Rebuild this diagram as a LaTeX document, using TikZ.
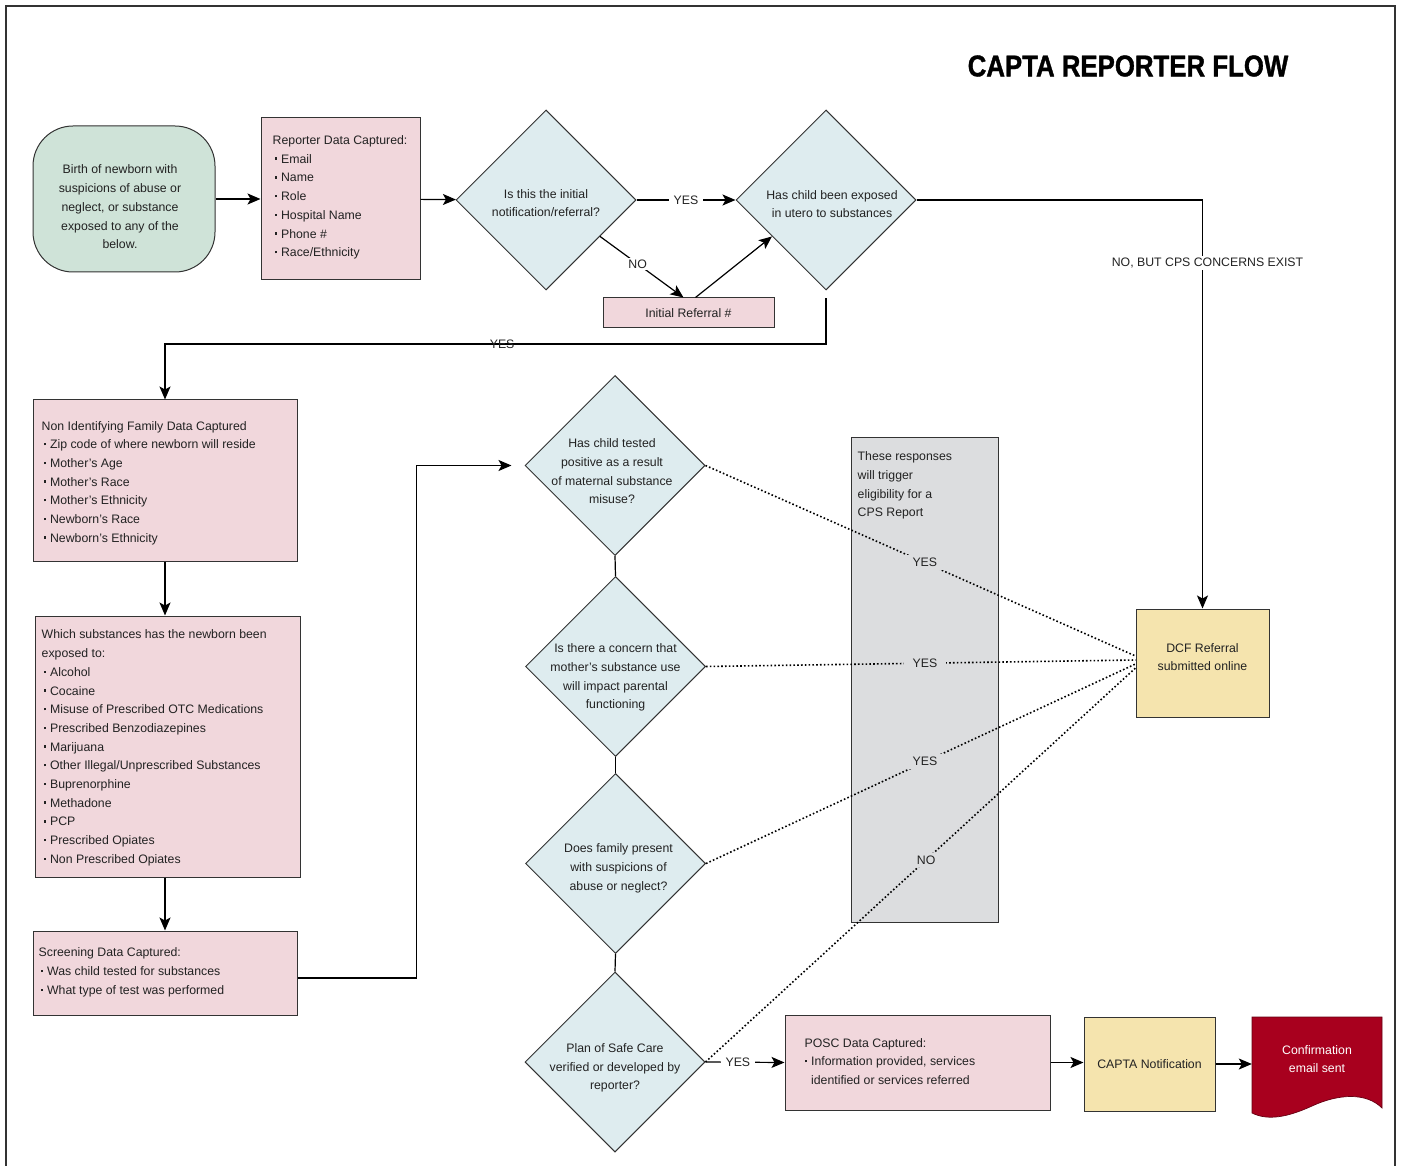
\documentclass[tikz,border=0pt]{standalone}
\usepackage{fontspec}
\setmainfont{Liberation Sans}
\newfontfamily\titlefont[FakeStretch=0.86, BoldFeatures={FakeBold=1.2}]{Liberation Sans}
\usetikzlibrary{shapes.geometric,arrows.meta,calc}
\definecolor{greenc}{HTML}{CFE3D8}
\definecolor{pinkc}{HTML}{F1D7DC}
\definecolor{bluec}{HTML}{DEECEF}
\definecolor{greyc}{HTML}{DCDDDF}
\definecolor{yellowc}{HTML}{F5E4AE}
\definecolor{redc}{HTML}{A8001E}
\definecolor{txtc}{HTML}{222222}
\definecolor{edgec}{HTML}{333333}
\newcommand{\bux}{\raisebox{0.28em}{\rule{2.4pt}{2.4pt}}\hspace{4pt}}
\newcommand{\bu}{\hspace{2pt}\bux}
\begin{document}
\begin{tikzpicture}[x=1pt,y=-1pt,
  every node/.style={font=\fontsize{12.3pt}{18.7pt}\selectfont, text=txtc},
  box/.style={draw=edgec, line width=1pt, inner sep=0pt},
  txt/.style={anchor=west, align=left, inner sep=0pt},
  dia/.style={diamond, draw=edgec, line width=1pt, fill=bluec, minimum width=180pt, minimum height=180pt, inner sep=0pt, aspect=1},
  arr/.style={draw=black, line width=1.2pt, -{Stealth[length=13pt,width=11pt,inset=3pt]}},
  ln/.style={draw=black, line width=1.2pt},
  dot/.style={draw=black, line width=1.6pt, dash pattern=on 1.6pt off 2.2pt},
  lbl/.style={fill=white, inner xsep=5pt, inner ysep=2pt},
  glbl/.style={fill=greyc, inner xsep=9pt, inner ysep=3pt}]
\useasboundingbox (0,0) rectangle (1401,1166);
% frame
\draw[line width=1.3pt, edgec] (6,1166) -- (6,6) -- (1395,6) -- (1395,1166);
% title
\node[font=\titlefont\bfseries\fontsize{30pt}{30pt}\selectfont, text=black] (title) at (1128,66) {CAPTA REPORTER FLOW};
% top row
\node[box, rounded corners=40pt, fill=greenc, minimum width=182pt, minimum height=146pt,
  label={[align=center, xshift=-4pt, yshift=-8pt]center:Birth of newborn with\\suspicions of abuse or\\neglect, or substance\\exposed to any of the\\below.}] (start) at (124,199) {};
\node[box, fill=pinkc, minimum width=159pt, minimum height=162pt] (rep) at (340.5,199) {};
\node[txt] (rept) at ([xshift=12pt, yshift=1.5pt]rep.west)
  {Reporter Data Captured:\\\bu Email\\\bu Name\\\bu Role\\\bu Hospital Name\\\bu Phone \#\\\bu Race/Ethnicity};
\node[dia, label={[align=center, yshift=-3pt]center:Is this the initial\\notification/referral?}] (d1) at (546,200) {};
\node[dia, label={[align=center, xshift=6pt, yshift=-4pt]center:Has child been exposed\\in utero to substances}] (d2) at (826,200) {};
\node[box, fill=pinkc, minimum width=171pt, minimum height=30pt] (ir) at (688.5,313) {Initial Referral \#};
% left column
\node[box, fill=pinkc, minimum width=264pt, minimum height=161pt] (nonid) at (165,480.5) {};
\node[txt] (nonidt) at ([xshift=9pt, yshift=-2.5pt]nonid.west)
  {Non Identifying Family Data Captured\\\bu Zip code of where newborn will reside\\\bu Mother’s Age\\\bu Mother’s Race\\\bu Mother’s Ethnicity\\\bu Newborn’s Race\\\bu Newborn’s Ethnicity};
\node[box, fill=pinkc, minimum width=265pt, minimum height=261pt] (subs) at (167.5,746.5) {};
\node[txt] (subst) at ([xshift=7pt, yshift=-1.5pt]subs.west)
  {Which substances has the newborn been\\exposed to:\\\bu Alcohol\\\bu Cocaine\\\bu Misuse of Prescribed OTC Medications\\\bu Prescribed Benzodiazepines\\\bu Marijuana\\\bu Other Illegal/Unprescribed Substances\\\bu Buprenorphine\\\bu Methadone\\\bu PCP\\\bu Prescribed Opiates\\\bu Non Prescribed Opiates};
\node[box, fill=pinkc, minimum width=264pt, minimum height=84pt] (scr) at (165,973) {};
\node[txt] (scrt) at ([xshift=6pt, yshift=0.5pt]scr.west)
  {Screening Data Captured:\\\bu Was child tested for substances\\\bu What type of test was performed};
% middle diamonds
\node[dia, label={[align=center, xshift=-3pt, yshift=-6pt]center:Has child tested\\positive as a result\\of maternal substance\\misuse?}] (d3) at (615,465.5) {};
\node[dia, label={[align=center, yshift=-11pt]center:Is there a concern that\\mother’s substance use\\will impact parental\\functioning}] (d4) at (615.5,666.5) {};
\node[dia, label={[align=center, xshift=3pt, yshift=-5pt]center:Does family present\\with suspicions of\\abuse or neglect?}] (d5) at (615.5,863.5) {};
\node[dia, label={[align=center, yshift=-6pt]center:Plan of Safe Care\\verified or developed by\\reporter?}] (d6) at (615,1062) {};
% grey box
\node[box, fill=greyc, minimum width=147pt, minimum height=485pt] (gbox) at (924.5,679.5) {};
\node[anchor=north west, align=left, inner sep=0pt] (gtext) at ([xshift=7pt,yshift=-15pt]gbox.north west)
  {These responses\\will trigger\\eligibility for a\\CPS Report};
% right side
\node[box, fill=yellowc, minimum width=133pt, minimum height=108pt,
  label={[align=center, yshift=6pt]center:DCF Referral\\submitted online}] (dcf) at (1202.5,663) {};
\node[box, fill=pinkc, minimum width=265pt, minimum height=95pt] (posc) at (917.5,1062.5) {};
\node[txt] (posct) at ([xshift=20pt, yshift=1pt]posc.west)
  {POSC Data Captured:\\\bux Information provided, services\\\phantom{\bux}identified or services referred};
\node[box, fill=yellowc, minimum width=131pt, minimum height=94pt] (capta) at (1149.5,1064) {CAPTA Notification};
\fill[redc, draw=redc!60!black, line width=0.7pt] (1252,1017) -- (1382,1017) -- (1382,1108)
  .. controls (1366,1092) and (1338,1094) .. (1312,1106)
  .. controls (1288,1117) and (1268,1121) .. (1252,1113) -- cycle;
\node[minimum width=130pt, minimum height=94pt, inner sep=0pt,
  label={[text=white, align=center, yshift=5pt]center:Confirmation\\email sent}] (conf) at (1317,1064) {};
% connectors
\draw[arr] (start) -- (rep);
\draw[arr] (rep) -- (d1);
\draw[arr] (d1) -- node[lbl]{YES} (d2);
\draw[arr] (d1.-34) -- node[lbl, pos=0.45]{NO} ([xshift=-5pt]ir.north);
\draw[arr] ([xshift=7pt]ir.north) -- (d2.214);
\draw[arr] (d2.east) -| node[lbl, pos=0.577, xshift=5pt]{NO, BUT CPS CONCERNS EXIST} (dcf.north);
\coordinate (j1) at (826,344);
\coordinate (j2) at (165,344);
\draw[arr] ([yshift=-8pt]d2.south) -- (j1) -- node[pos=0.49, inner sep=0pt]{YES} (j2) -- (nonid.north);
\draw[arr] (nonid.south) -- (nonid.south |- subs.north);
\draw[arr] (scr.north |- subs.south) -- (scr.north);
\draw[arr] ([yshift=-5pt]scr.east) -- ++(119,0) |- ([xshift=-13pt]d3.west);
\draw[ln] (d3.south) -- (d4.north);
\draw[ln] (d4.south) -- (d5.north);
\draw[ln] (d5.south) -- (d6.north);
\coordinate (c1) at ([yshift=7pt]dcf.west);
\coordinate (c2) at ([yshift=3pt]dcf.west);
\coordinate (c3) at ([yshift=-1pt]dcf.west);
\coordinate (c4) at ([yshift=-5pt]dcf.west);
\draw[dot] (d3.east) -- node[glbl, pos=0.51]{YES} (c1);
\draw[dot] (d4.east) -- node[glbl, pos=0.51]{YES} (c2);
\draw[dot] (d5.east) -- node[glbl, pos=0.51]{YES} (c3);
\draw[dot] (d6.east) -- node[glbl, pos=0.513]{NO} (c4);
\draw[arr] (d6.east) -- node[lbl, pos=0.41]{YES} (posc.west);
\draw[arr] (posc.east) -- (posc.east -| capta.west);
\draw[arr] (capta.east) -- (conf.west);
\end{tikzpicture}
\end{document}
